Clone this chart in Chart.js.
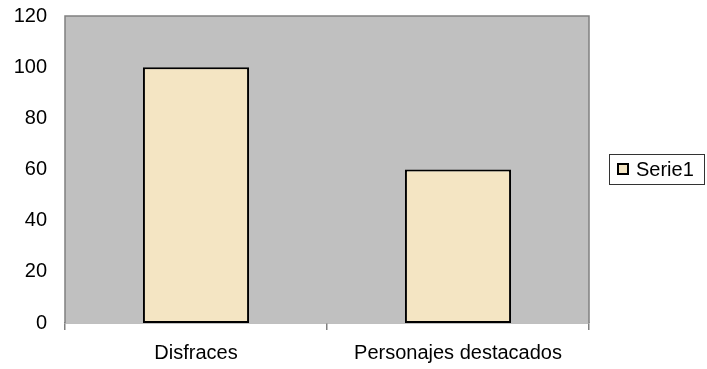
<!DOCTYPE html>
<html>
<head>
<meta charset="utf-8">
<script src="https://cdn.jsdelivr.net/npm/chart.js@4/dist/chart.umd.min.js"></script>
<style>
html,body{margin:0;padding:0;background:#fff;}
#wrap{width:707px;height:369px;position:relative;}
</style>
</head>
<body>
<div id="wrap"><canvas id="c" width="707" height="369"></canvas></div>
<script>
const categories = ["Disfraces", "Personajes destacados"];
const seriesName = "Serie1";
const serie1 = [100, 60];
const yTicks = [0, 20, 40, 60, 80, 100, 120];

const FONT = "'Liberation Sans', Arial, sans-serif";
const FS = 20;
const barFill = "#f4e5c3";

const plotBg = {
  id: 'plotBg',
  beforeDatasetsDraw(chart) {
    const {ctx, chartArea: a} = chart;
    ctx.save();
    ctx.fillStyle = '#c0c0c0';
    ctx.fillRect(a.left, a.top, a.right - a.left, a.bottom - a.top);
    ctx.strokeStyle = '#808080';
    ctx.lineWidth = 1.5;
    ctx.beginPath();
    ctx.moveTo(a.left, a.bottom);
    ctx.lineTo(a.left, a.top);
    ctx.lineTo(a.right, a.top);
    ctx.lineTo(a.right, a.bottom);
    ctx.stroke();
    ctx.restore();
  },
  afterDraw(chart) {
    const ctx = chart.ctx;
    ctx.save();
    ctx.strokeStyle = '#333';
    ctx.lineWidth = 1;
    ctx.strokeRect(609.5, 154.5, 95, 30);
    ctx.fillStyle = barFill;
    ctx.fillRect(618, 164, 10, 10);
    ctx.strokeStyle = '#000';
    ctx.lineWidth = 2;
    ctx.strokeRect(618, 164, 10, 10);
    ctx.fillStyle = '#000';
    ctx.font = FS + "px " + FONT;
    ctx.textBaseline = 'middle';
    ctx.fillText(chart.data.datasets[0].label, 636, 170);
    ctx.restore();
  }
};

new Chart(document.getElementById('c'), {
  type: 'bar',
  data: {
    labels: categories,
    datasets: [{
      label: seriesName,
      data: serie1,
      backgroundColor: barFill,
      borderColor: '#000',
      borderWidth: 2,
      borderSkipped: false,
      categoryPercentage: 1,
      barPercentage: 0.405
    }]
  },
  options: {
    responsive: false,
    animation: false,
    devicePixelRatio: 1,
    layout: { padding: { top: 16, right: 118, left: 0, bottom: 0 } },
    plugins: { legend: { display: false }, tooltip: { enabled: false } },
    scales: {
      x: {
        offset: true,
        grid: { offset: true, drawOnChartArea: false, drawTicks: true, tickLength: 7, color: '#808080', lineWidth: 1.5 },
        border: { display: true, color: '#808080', width: 1.5 },
        ticks: { color: '#000', font: { family: FONT, size: FS }, padding: 11, maxRotation: 0 },
        afterFit(s) { s.height = 46; s.paddingLeft = 0; s.paddingRight = 0; }
      },
      y: {
        min: 0, max: 120,
        afterBuildTicks(s) { s.ticks = yTicks.map(v => ({ value: v })); },
        grid: { display: false },
        border: { display: false },
        ticks: { color: '#000', font: { family: FONT, size: FS }, padding: 10 },
        afterFit(s) { s.width = 65; s.paddingTop = 0; s.paddingBottom = 0; }
      }
    }
  },
  plugins: [plotBg]
});
</script>
</body>
</html>
